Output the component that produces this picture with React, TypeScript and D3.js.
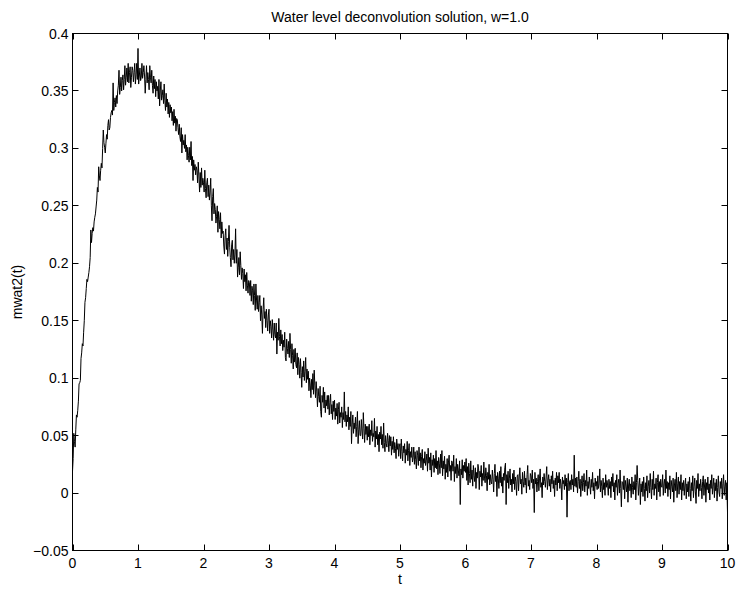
import React, { useEffect, useRef } from 'react';
import * as d3 from 'd3';

const title = 'Water level deconvolution solution, w=1.0';
const xLabel = 't';
const yLabel = 'mwat2(t)';

const xTicks = [0, 1, 2, 3, 4, 5, 6, 7, 8, 9, 10];
const xTickLabels = ['0', '1', '2', '3', '4', '5', '6', '7', '8', '9', '10'];
const yTicks = [-0.05, 0, 0.05, 0.1, 0.15, 0.2, 0.25, 0.3, 0.35, 0.4];
const yTickLabels = ['\u22120.05', '0', '0.05', '0.1', '0.15', '0.2', '0.25', '0.3', '0.35', '0.4'];

// sample spacing of the series (t = 0 .. 10)
const dt = 0.01;

// mwat2(t), one row per 0.1 of t
const mwat2 = [
  0.019, 0.030, 0.052, 0.045, 0.040, 0.055, 0.068, 0.066, 0.072, 0.080,
  0.095, 0.096, 0.098, 0.117, 0.122, 0.130, 0.128, 0.140, 0.150, 0.166,
  0.170, 0.178, 0.186, 0.184, 0.188, 0.192, 0.197, 0.205, 0.229, 0.218,
  0.226, 0.231, 0.228, 0.236, 0.240, 0.243, 0.249, 0.255, 0.266, 0.262,
  0.284, 0.276, 0.272, 0.281, 0.287, 0.283, 0.300, 0.316, 0.305, 0.301,
  0.296, 0.304, 0.312, 0.308, 0.320, 0.325, 0.316, 0.318, 0.327, 0.331,
  0.333, 0.329, 0.357, 0.333, 0.340, 0.344, 0.336, 0.346, 0.339, 0.350,
  0.355, 0.368, 0.347, 0.353, 0.362, 0.350, 0.359, 0.364, 0.351, 0.360,
  0.372, 0.355, 0.362, 0.370, 0.358, 0.374, 0.357, 0.366, 0.371, 0.353,
  0.362, 0.371, 0.368, 0.358, 0.366, 0.374, 0.356, 0.364, 0.374, 0.360,
  0.387, 0.356, 0.363, 0.370, 0.359, 0.362, 0.374, 0.361, 0.366, 0.372,
  0.363, 0.348, 0.360, 0.372, 0.357, 0.366, 0.360, 0.351, 0.372, 0.362,
  0.357, 0.368, 0.355, 0.348, 0.363, 0.352, 0.360, 0.345, 0.358, 0.350,
  0.354, 0.343, 0.360, 0.337, 0.350, 0.358, 0.342, 0.346, 0.351, 0.339,
  0.356, 0.342, 0.333, 0.348, 0.336, 0.343, 0.330, 0.340, 0.327, 0.338,
  0.331, 0.336, 0.324, 0.332, 0.320, 0.334, 0.322, 0.328, 0.315, 0.326,
  0.325, 0.318, 0.312, 0.321, 0.310, 0.306, 0.318, 0.296, 0.312, 0.303,
  0.307, 0.300, 0.312, 0.297, 0.303, 0.290, 0.301, 0.294, 0.288, 0.301,
  0.290, 0.306, 0.285, 0.293, 0.272, 0.290, 0.281, 0.286, 0.277, 0.284,
  0.281, 0.270, 0.288, 0.276, 0.262, 0.279, 0.266, 0.283, 0.268, 0.274,
  0.270, 0.262, 0.281, 0.265, 0.257, 0.270, 0.274, 0.258, 0.268, 0.255,
  0.262, 0.274, 0.250, 0.237, 0.258, 0.265, 0.243, 0.252, 0.247, 0.235,
  0.241, 0.250, 0.227, 0.245, 0.238, 0.230, 0.244, 0.222, 0.236, 0.226,
  0.228, 0.215, 0.208, 0.224, 0.230, 0.212, 0.222, 0.206, 0.219, 0.233,
  0.214, 0.205, 0.197, 0.216, 0.220, 0.203, 0.212, 0.200, 0.208, 0.230,
  0.200, 0.212, 0.188, 0.196, 0.205, 0.190, 0.210, 0.198, 0.186, 0.196,
  0.191, 0.178, 0.195, 0.184, 0.190, 0.176, 0.192, 0.181, 0.174, 0.185,
  0.183, 0.172, 0.185, 0.167, 0.180, 0.176, 0.164, 0.182, 0.172, 0.159,
  0.182, 0.168, 0.160, 0.172, 0.158, 0.166, 0.172, 0.150, 0.163, 0.155,
  0.139, 0.160, 0.170, 0.152, 0.158, 0.144, 0.160, 0.150, 0.141, 0.155,
  0.160, 0.139, 0.150, 0.145, 0.135, 0.151, 0.142, 0.133, 0.148, 0.138,
  0.135, 0.148, 0.121, 0.140, 0.133, 0.152, 0.136, 0.128, 0.142, 0.130,
  0.138, 0.124, 0.133, 0.127, 0.140, 0.118, 0.115, 0.134, 0.126, 0.121,
  0.132, 0.118, 0.139, 0.125, 0.113, 0.130, 0.120, 0.108, 0.125, 0.114,
  0.126, 0.112, 0.109, 0.122, 0.103, 0.118, 0.112, 0.100, 0.117, 0.105,
  0.092, 0.110, 0.101, 0.115, 0.098, 0.106, 0.118, 0.096, 0.108, 0.099,
  0.106, 0.089, 0.100, 0.094, 0.083, 0.099, 0.090, 0.104, 0.086, 0.107,
  0.094, 0.083, 0.097, 0.088, 0.075, 0.091, 0.084, 0.079, 0.093, 0.071,
  0.066, 0.085, 0.079, 0.092, 0.074, 0.088, 0.070, 0.081, 0.076, 0.085,
  0.073, 0.085, 0.068, 0.079, 0.086, 0.069, 0.077, 0.064, 0.080, 0.071,
  0.081, 0.064, 0.074, 0.067, 0.078, 0.060, 0.073, 0.079, 0.061, 0.070,
  0.066, 0.075, 0.057, 0.070, 0.064, 0.088, 0.062, 0.071, 0.058, 0.068,
  0.062, 0.075, 0.055, 0.066, 0.058, 0.071, 0.043, 0.060, 0.068, 0.052,
  0.061, 0.056, 0.066, 0.049, 0.058, 0.071, 0.043, 0.055, 0.063, 0.050,
  0.050, 0.064, 0.054, 0.047, 0.070, 0.056, 0.044, 0.060, 0.051, 0.058,
  0.046, 0.058, 0.049, 0.060, 0.042, 0.055, 0.050, 0.063, 0.045, 0.052,
  0.049, 0.065, 0.040, 0.054, 0.047, 0.058, 0.042, 0.051, 0.036, 0.053,
  0.047, 0.058, 0.042, 0.051, 0.039, 0.061, 0.044, 0.036, 0.050, 0.043,
  0.040, 0.052, 0.046, 0.036, 0.050, 0.041, 0.049, 0.033, 0.045, 0.038,
  0.049, 0.035, 0.044, 0.039, 0.030, 0.047, 0.038, 0.043, 0.032, 0.041,
  0.043, 0.030, 0.047, 0.036, 0.028, 0.041, 0.035, 0.043, 0.026, 0.038,
  0.033, 0.045, 0.028, 0.037, 0.043, 0.024, 0.036, 0.031, 0.040, 0.027,
  0.031, 0.040, 0.025, 0.036, 0.029, 0.021, 0.037, 0.033, 0.024, 0.040,
  0.028, 0.035, 0.022, 0.032, 0.038, 0.020, 0.030, 0.026, 0.036, 0.024,
  0.028, 0.034, 0.019, 0.039, 0.026, 0.031, 0.020, 0.035, 0.014, 0.029,
  0.024, 0.033, 0.018, 0.030, 0.022, 0.037, 0.021, 0.028, 0.016, 0.031,
  0.026, 0.017, 0.034, 0.022, 0.037, 0.015, 0.028, 0.021, 0.032, 0.012,
  0.025, 0.018, 0.030, 0.014, 0.027, 0.033, 0.019, 0.024, 0.011, 0.028,
  0.026, 0.019, 0.033, 0.010, 0.023, 0.017, 0.030, 0.013, 0.025, 0.020,
  0.015, 0.028, -0.010, 0.021, 0.016, 0.029, 0.013, 0.024, 0.019, 0.027,
  0.018, 0.030, 0.011, 0.023, 0.007, 0.026, 0.017, 0.009, 0.028, 0.012,
  0.020, 0.006, 0.024, 0.015, 0.010, 0.022, 0.004, 0.018, 0.013, 0.025,
  0.021, 0.003, 0.019, 0.014, 0.024, 0.006, 0.017, 0.011, 0.027, 0.013,
  0.009, 0.022, 0.015, 0.002, 0.018, 0.012, 0.025, 0.007, 0.016, 0.010,
  0.008, 0.020, 0.012, 0.001, 0.017, 0.025, 0.010, 0.015, -0.003, 0.018,
  0.013, 0.004, 0.019, 0.009, 0.023, 0.006, 0.014, 0.000, 0.017, 0.011,
  0.022, 0.026, -0.010, 0.016, 0.009, 0.019, 0.004, 0.013, 0.021, 0.007,
  0.012, 0.001, 0.017, 0.008, 0.020, 0.003, 0.014, 0.010, -0.002, 0.015,
  0.016, 0.002, 0.014, 0.022, 0.008, 0.012, -0.001, 0.018, 0.010, 0.005,
  0.019, 0.007, 0.013, 0.000, 0.016, 0.024, 0.006, 0.011, 0.003, 0.017,
  0.015, 0.009, 0.020, 0.004, 0.012, -0.017, 0.018, 0.008, 0.013, 0.001,
  0.010, 0.016, 0.002, 0.013, 0.021, 0.005, 0.009, -0.004, 0.014, 0.007,
  0.017, 0.010, 0.005, 0.014, 0.023, 0.003, 0.011, 0.016, 0.006, 0.012,
  0.001, 0.015, 0.008, 0.019, 0.004, 0.011, -0.003, 0.013, 0.007, 0.018,
  0.002, 0.015, 0.009, 0.018, 0.004, 0.012, 0.007, -0.006, 0.014, 0.008,
  0.011, 0.003, 0.016, 0.006, 0.013, -0.021, 0.009, 0.017, 0.002, 0.010,
  0.011, 0.003, 0.016, 0.007, 0.012, 0.001, 0.033, 0.006, 0.013, 0.005,
  0.014, 0.000, 0.010, 0.019, 0.004, 0.012, -0.003, 0.008, 0.015, 0.002,
  0.009, 0.017, 0.001, 0.011, 0.006, 0.020, -0.002, 0.010, 0.004, 0.014,
  0.007, -0.001, 0.012, 0.005, 0.018, 0.002, 0.009, -0.005, 0.013, 0.006,
  0.010, 0.003, 0.015, 0.004, 0.008, 0.021, 0.001, 0.011, 0.006, -0.004,
  0.013, 0.003, 0.009, -0.002, 0.016, 0.005, 0.011, 0.007, -0.002, 0.012,
  0.004, 0.010, -0.004, 0.014, 0.006, 0.017, 0.001, 0.009, -0.006, 0.011,
  0.005, 0.016, -0.002, 0.008, 0.012, 0.000, 0.020, 0.004, -0.012, 0.010,
  0.009, 0.003, 0.015, -0.005, 0.011, 0.006, 0.001, 0.013, -0.008, 0.007,
  0.012, 0.002, 0.008, -0.004, 0.014, 0.005, -0.001, 0.010, 0.003, 0.016,
  -0.006, 0.009, 0.024, 0.011, -0.002, 0.007, 0.013, -0.010, 0.008, 0.001,
  0.010, -0.003, 0.014, 0.004, -0.007, 0.009, 0.002, 0.015, -0.004, 0.006,
  0.011, 0.000, 0.017, 0.005, -0.005, 0.012, 0.003, 0.019, -0.002, 0.008,
  0.004, 0.013, -0.006, 0.009, 0.016, 0.001, 0.010, -0.003, 0.012, 0.006,
  0.005, 0.016, -0.002, 0.008, 0.012, 0.000, 0.020, 0.004, 0.010, -0.003,
  0.009, 0.003, 0.015, -0.005, 0.011, 0.006, 0.001, 0.013, -0.008, 0.007,
  0.012, 0.002, 0.018, -0.004, 0.008, 0.014, -0.001, 0.010, 0.003, 0.016,
  -0.006, 0.009, 0.002, 0.011, -0.002, 0.007, 0.013, -0.005, 0.008, 0.001,
  0.010, -0.003, 0.014, 0.004, -0.007, 0.009, 0.002, 0.015, -0.004, 0.006,
  0.013, 0.001, -0.009, 0.011, 0.004, 0.017, -0.003, 0.008, 0.002, 0.012,
  0.005, -0.005, 0.010, 0.015, -0.002, 0.007, 0.012, -0.008, 0.009, 0.003,
  0.014, 0.000, 0.008, -0.006, 0.011, 0.004, 0.016, -0.001, 0.006, 0.013,
  -0.004, 0.009, 0.002, 0.012, -0.007, 0.005, 0.015, 0.001, -0.003, 0.010,
  0.004, 0.013, -0.005, 0.008, 0.016, -0.002, 0.006, 0.011, -0.006, 0.009,
  -0.017,
];

const App = () => {
  const ref = useRef<SVGSVGElement>(null);

  useEffect(() => {
    const svg = d3.select(ref.current);
    svg.selectAll('*').remove();

    const width = 737;
    const height = 590;
    // plot box, in pixels
    const box = { left: 72.5, right: 727.5, top: 33.5, bottom: 550.5 };
    const font = 'Liberation Sans, Arial, Helvetica, sans-serif';
    const tickLen = 6;

    svg.append('rect')
      .attr('width', width)
      .attr('height', height)
      .attr('fill', '#fff');

    const xScale = d3.scaleLinear().domain([0, 10]).range([box.left, box.right]);
    const yScale = d3.scaleLinear().domain([-0.05, 0.4]).range([box.bottom, box.top]);

    // the curve
    const line = d3.line<number>()
      .x((d, i) => xScale(i * dt))
      .y(d => yScale(d));

    svg.append('path')
      .datum(mwat2)
      .attr('d', line)
      .attr('fill', 'none')
      .attr('stroke', '#000')
      .attr('stroke-width', 1)
      .attr('stroke-linejoin', 'miter');

    // ticks, all four sides, pointing in
    const ticks = svg.append('g').attr('stroke', '#000').attr('stroke-width', 1);
    xTicks.forEach(t => {
      const x = Math.round(xScale(t)) + 0.5;
      ticks.append('line').attr('x1', x).attr('x2', x).attr('y1', box.bottom).attr('y2', box.bottom - tickLen);
      ticks.append('line').attr('x1', x).attr('x2', x).attr('y1', box.top).attr('y2', box.top + tickLen);
    });
    yTicks.forEach(v => {
      const y = Math.round(yScale(v) - 0.5) + 0.5;
      ticks.append('line').attr('x1', box.left).attr('x2', box.left + tickLen).attr('y1', y).attr('y2', y);
      ticks.append('line').attr('x1', box.right).attr('x2', box.right - tickLen).attr('y1', y).attr('y2', y);
    });

    // box
    svg.append('rect')
      .attr('x', box.left)
      .attr('y', box.top)
      .attr('width', box.right - box.left)
      .attr('height', box.bottom - box.top)
      .attr('fill', 'none')
      .attr('stroke', '#000')
      .attr('stroke-width', 1);

    // tick labels
    svg.append('g')
      .selectAll('text')
      .data(xTicks)
      .enter()
      .append('text')
      .attr('x', d => xScale(d))
      .attr('y', box.bottom + 17)
      .attr('text-anchor', 'middle')
      .attr('font-family', font)
      .attr('font-size', 14)
      .text((d, i) => xTickLabels[i]);

    svg.append('g')
      .selectAll('text')
      .data(yTicks)
      .enter()
      .append('text')
      .attr('x', box.left - 4)
      .attr('y', d => yScale(d) + 5)
      .attr('text-anchor', 'end')
      .attr('font-family', font)
      .attr('font-size', 14)
      .text((d, i) => yTickLabels[i]);

    // title and axis labels
    svg.append('text')
      .attr('x', (box.left + box.right) / 2)
      .attr('y', 22)
      .attr('text-anchor', 'middle')
      .attr('font-family', font)
      .attr('font-size', 14)
      .text(title);

    svg.append('text')
      .attr('x', (box.left + box.right) / 2)
      .attr('y', box.bottom + 33)
      .attr('text-anchor', 'middle')
      .attr('font-family', font)
      .attr('font-size', 14)
      .text(xLabel);

    svg.append('text')
      .attr('transform', `translate(22, ${(box.top + box.bottom) / 2}) rotate(-90)`)
      .attr('text-anchor', 'middle')
      .attr('font-family', font)
      .attr('font-size', 14)
      .text(yLabel);
  }, []);

  return (
    <svg
      ref={ref}
      width={737}
      height={590}
      style={{ position: 'absolute', left: 0, top: 0, display: 'block' }}
    />
  );
};

export default App;
